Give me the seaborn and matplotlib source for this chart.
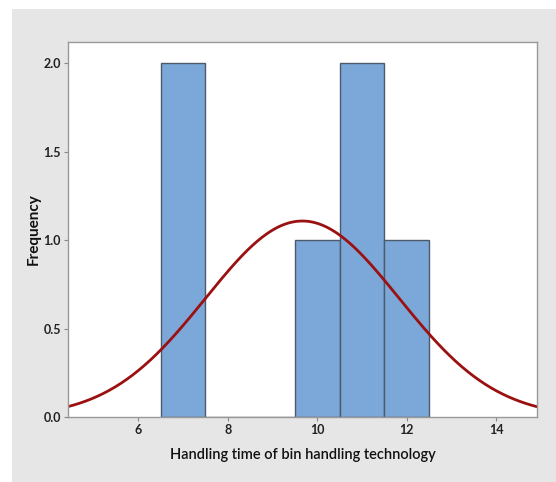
import numpy as np
import pandas as pd
import matplotlib
matplotlib.use("Agg")
import matplotlib.pyplot as plt
import seaborn as sns
from matplotlib.patches import Rectangle
from matplotlib.ticker import FormatStrFormatter

# Data (handling times: bins of width 1 centred on integers)
handling_time = [7, 7, 10, 11, 11, 12]
bin_edges = [6.5, 7.5, 8.5, 9.5, 10.5, 11.5, 12.5]
x_ticks = [6, 8, 10, 12, 14]
y_ticks = [0.0, 0.5, 1.0, 1.5, 2.0]

sns.set_theme(style="white")
plt.rcParams['font.family'] = ['Lato', 'DejaVu Sans']

fig = plt.figure(figsize=(5.56, 4.82), dpi=100)
fig.patch.set_facecolor('white')
fig.patches.append(Rectangle((12/556, 0), 1 - 12/556, 1 - 9/482, transform=fig.transFigure,
                             facecolor='#e6e6e6', edgecolor='none', zorder=-10))

ax = fig.add_axes([68/556, 1 - 417/482, (537-68)/556, (417-42)/482])
ax.set_facecolor('white')

df = pd.DataFrame({'t': handling_time})
sns.histplot(data=df, x='t', bins=bin_edges, stat='count', ax=ax,
             color='#7ba7d9', edgecolor='#4d5a6a', linewidth=1.0, alpha=1.0)

# Normal fit
vals = np.array(handling_time, dtype=float)
mu, sd = vals.mean(), vals.std(ddof=1)
xs = np.linspace(4.43, 14.91, 400)
binw = 1.0
ys = len(vals) * binw * np.exp(-0.5 * ((xs - mu) / sd) ** 2) / (sd * np.sqrt(2 * np.pi))
sns.lineplot(x=xs, y=ys, ax=ax, color='#9b1111', linewidth=2.0)

ax.set_xlim(4.43, 14.91)
ax.set_ylim(0, 2.12)
ax.set_xticks(x_ticks)
ax.set_yticks(y_ticks)
ax.yaxis.set_major_formatter(FormatStrFormatter('%.1f'))
ax.tick_params(axis='both', which='major', direction='out', length=3, width=0.8,
               color='#888888', labelsize=9, labelcolor='#222222', pad=2,
               bottom=True, left=True)
for lab in ax.get_xticklabels() + ax.get_yticklabels():
    lab.set_fontweight('bold')
for s in ax.spines.values():
    s.set_color('#999999')
    s.set_linewidth(1.0)

ax.set_xlabel('Handling time of bin handling technology', fontsize=10.5, fontweight='semibold',
              color='#111111', labelpad=9)
ax.set_ylabel('Frequency', fontsize=11, fontweight='bold', color='#111111', labelpad=2)

fig.savefig('out.png', dpi=100)
